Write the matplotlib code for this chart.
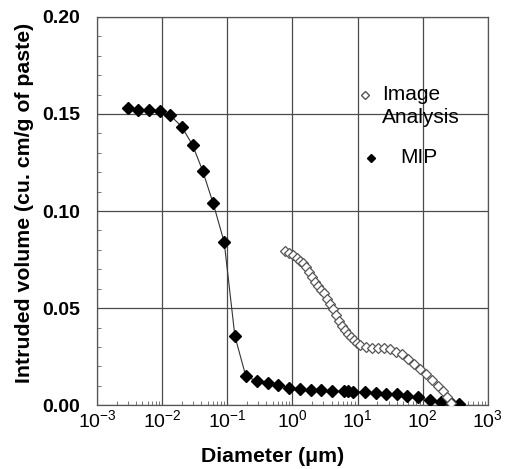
import matplotlib
matplotlib.use("Agg")
import matplotlib.pyplot as plt
from matplotlib.ticker import LogLocator, MultipleLocator, FixedLocator

plt.rcParams["font.family"] = ["Liberation Sans", "DejaVu Sans"]

# MIP (mercury intrusion porosimetry) data
mip_diameter = [0.00296, 0.0042, 0.00628, 0.00927, 0.0132, 0.0199, 0.0294, 0.0418,
                0.0608, 0.0897, 0.131, 0.193, 0.284, 0.420, 0.608, 0.88, 1.30, 1.91,
                2.79, 4.12, 6.14, 7.15, 8.53, 12.9, 19.0, 27.5, 39.9, 57.4, 84.7,
                128, 189, 275, 361]
mip_volume = [0.1529, 0.1519, 0.1521, 0.1517, 0.1495, 0.1435, 0.1340, 0.1208,
              0.1040, 0.0840, 0.0356, 0.0149, 0.0125, 0.0115, 0.0103, 0.0091,
              0.0086, 0.0077, 0.0077, 0.0074, 0.0071, 0.0071, 0.0069, 0.0067,
              0.0063, 0.0060, 0.0057, 0.0048, 0.0040, 0.0026, 0.0015, 0.0009,
              0.0004]

# Image analysis data
ia_diameter = [0.767, 0.883, 1.02, 1.17, 1.30, 1.45, 1.61, 1.79, 1.99, 2.21, 2.46,
               2.74, 3.04, 3.38, 3.76, 4.18, 4.65, 5.17, 5.75, 6.39, 7.10, 7.89,
               8.78, 9.77, 10.9, 13.4, 16.6, 20.5, 25.3, 31.3, 38.7, 47.9, 59.2,
               73.1, 90.4, 112, 138, 171, 204, 235, 270]
ia_volume = [0.0795, 0.0786, 0.0773, 0.0758, 0.0745, 0.0730, 0.0711, 0.0686,
             0.0660, 0.0634, 0.0613, 0.0593, 0.0577, 0.0549, 0.0523, 0.0495,
             0.0464, 0.0436, 0.0410, 0.0387, 0.0369, 0.0353, 0.0335, 0.0322,
             0.0312, 0.0299, 0.0297, 0.0296, 0.0295, 0.0289, 0.0276, 0.0263,
             0.0240, 0.0214, 0.0186, 0.0160, 0.0131, 0.0101, 0.0072, 0.0044,
             0.0012]

y_ticks = [0.00, 0.05, 0.10, 0.15, 0.20]
y_tick_labels = ["0.00", "0.05", "0.10", "0.15", "0.20"]

fig = plt.figure(figsize=(5.05, 4.69), dpi=100)
ax = fig.add_axes([0.192, 0.136, 0.774, 0.828])

ax.plot(mip_diameter, mip_volume, color="#333333", lw=0.8, marker="D",
        markersize=6.3, markerfacecolor="black", markeredgecolor="black", zorder=3)
ax.plot(ia_diameter, ia_volume, linestyle="none", marker="D", markersize=5,
        markerfacecolor="white", markeredgecolor="#555555", markeredgewidth=0.9,
        zorder=4)

ax.set_xscale("log")
ax.set_xlim(1e-3, 1e3)
ax.set_ylim(0, 0.20)
ax.xaxis.set_major_locator(LogLocator(base=10, numticks=10))
ax.xaxis.set_minor_locator(LogLocator(base=10, subs=range(2, 10), numticks=20))
ax.yaxis.set_major_locator(FixedLocator(y_ticks))
ax.set_yticklabels(y_tick_labels)
ax.yaxis.set_minor_locator(MultipleLocator(0.01))

ax.grid(True, which="major", color="#4a4a4a", lw=0.9)
ax.tick_params(which="both", direction="in", length=3, width=0.7, color="#777777")
ax.tick_params(which="major", length=0)
ax.tick_params(axis="y", labelsize=14, pad=12)
ax.tick_params(axis="x", labelsize=14, pad=3)
for lab in ax.get_yticklabels():
    lab.set_fontweight("bold")
for s in ax.spines.values():
    s.set_color("#555555")
    s.set_linewidth(0.9)

ax.set_xlabel("Diameter (\u03bcm)", fontsize=15.3, fontweight="bold")
ax.xaxis.set_label_coords(0.448, -0.108)
ax.set_ylabel("Intruded volume (cu. cm/g of paste)", fontsize=15.3,
              fontweight="bold")
ax.yaxis.set_label_coords(-0.16, 0.52)

# legend drawn by hand to follow the original layout
ax.plot([0.685], [0.799], transform=ax.transAxes, linestyle="none", marker="D",
        markersize=4, markerfacecolor="white", markeredgecolor="#555555",
        clip_on=False)
ax.text(0.729, 0.799, "Image", transform=ax.transAxes, fontsize=15,
        va="center", ha="left")
ax.text(0.729, 0.742, "Analysis", transform=ax.transAxes, fontsize=15,
        va="center", ha="left")
ax.plot([0.701], [0.637], transform=ax.transAxes, linestyle="none", marker="D",
        markersize=4.5, markerfacecolor="black", markeredgecolor="black",
        clip_on=False)
ax.text(0.777, 0.637, "MIP", transform=ax.transAxes, fontsize=15,
        va="center", ha="left")

fig.savefig("out.png", dpi=100)
